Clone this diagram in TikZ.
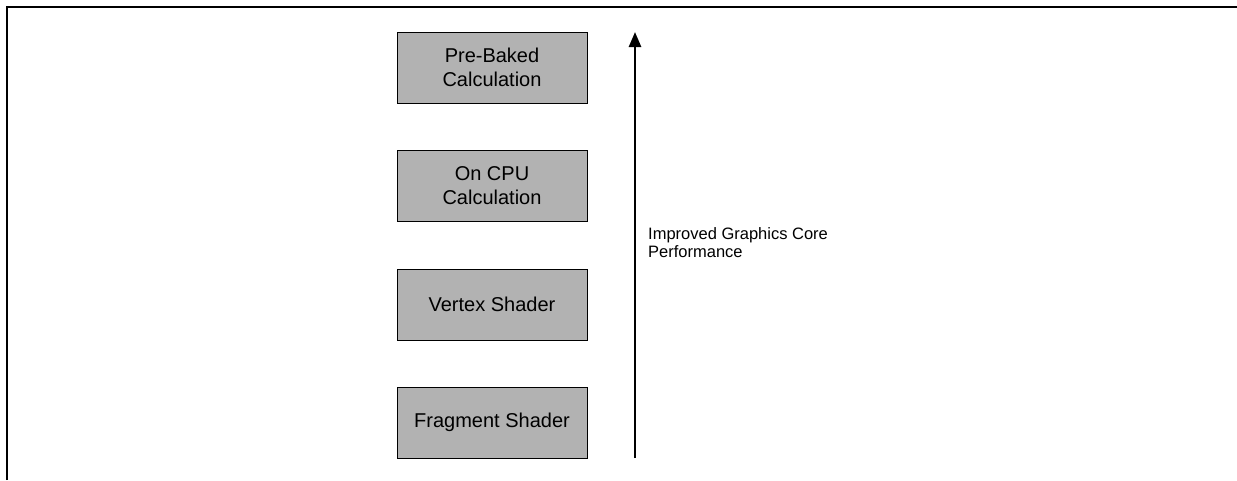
\documentclass[tikz,border=0pt]{standalone}
\usepackage{fontspec}
\setmainfont{Liberation Sans}
\usetikzlibrary{positioning,arrows.meta}

\begin{document}
\begin{tikzpicture}[
  x=1pt, y=-1pt,
  node distance=47pt,
  box/.style={rectangle, draw, fill=black!30, minimum width=190pt, minimum height=71pt, text centered, align=center, font=\fontsize{20}{24}\selectfont, inner sep=0pt},
  note/.style={align=left, font=\fontsize{16.5}{18}\selectfont, inner sep=0pt},
  arrow/.style={-{Triangle[width=12pt,length=15pt]}, line width=2.5pt},
  frame/.style={line width=2pt}
]
\useasboundingbox (0,0) rectangle (1237,480);

% Rahmen (nur oben und links sichtbar)
\draw[frame] (7,480) -- (7,7) -- (1237,7);

% Berechnungsstufen
\node[box] (prebaked) at (492,67.5) {Pre-Baked\\Calculation};
\node[box, below=of prebaked] (oncpu) {On CPU\\Calculation};
\node[box, below=of oncpu] (vertex) {Vertex Shader};
\node[box, below=of vertex] (fragment) {Fragment Shader};

% Leistungspfeil
\coordinate (perfbottom) at (635,458);
\coordinate (perftop) at (635,32);
\draw[arrow] (perfbottom) -- (perftop);
\node[note, anchor=north west] (perf) at (648,227) {Improved Graphics Core\\Performance};

\end{tikzpicture}
\end{document}
